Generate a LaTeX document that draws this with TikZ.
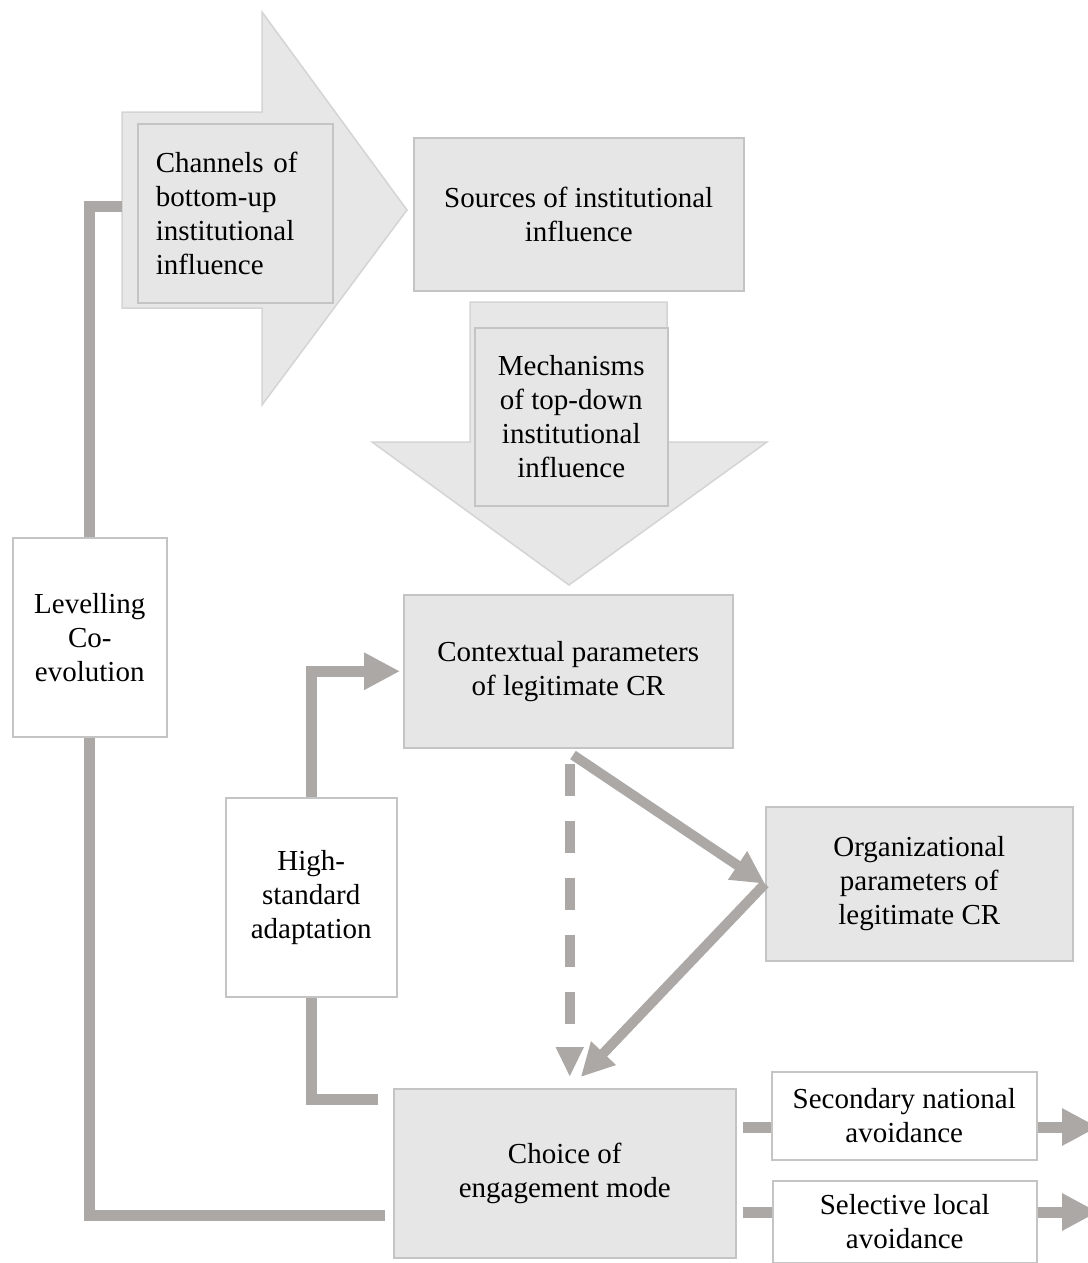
\documentclass[tikz,border=0pt]{standalone}
\usepackage{fontspec}
\setmainfont{Liberation Serif}
\usetikzlibrary{arrows.meta}
\definecolor{boxfill}{RGB}{230,230,230}
\definecolor{boxline}{RGB}{196,196,196}
\definecolor{shapefill}{RGB}{231,231,231}
\definecolor{shapeline}{RGB}{212,212,212}
\definecolor{linkgray}{RGB}{172,168,166}
\begin{document}
\begin{tikzpicture}[x=1pt,y=-1pt,
  lbl/.style={font=\fontsize{29}{34}\selectfont, align=center, inner sep=0pt, anchor=north west},
  graybox/.style={lbl, draw=boxline, fill=boxfill, line width=1.5pt},
  whitebox/.style={lbl, draw=boxline, fill=white, line width=1.5pt},
  bigarrow/.style={draw=shapeline, fill=shapefill, line width=1.5pt, line join=miter},
  link/.style={draw=linkgray, line width=11pt},
  linkarrow/.style={link, -{Triangle[length=36pt,width=35pt]}},
]
\useasboundingbox (0,0) rectangle (1087,1263);

% block arrows
\path[bigarrow] (122,112) -- (262,112) -- (262,12) -- (407,210) -- (262,405)
  -- (262,308) -- (122,308) -- cycle;
\path[bigarrow] (470,302) -- (667,302) -- (667,442) -- (767,442) -- (569,585)
  -- (372,442) -- (470,442) -- cycle;

% boxes
\node[graybox, minimum width=195pt, minimum height=179pt, text width=159pt, align=left]
  (chan) at (137,123) {Channels of\\bottom-up\\institutional\\influence};
\node[graybox, minimum width=330pt, minimum height=153pt]
  (src) at (413,137) {Sources of institutional\\influence};
\node[graybox, minimum width=193pt, minimum height=178pt]
  (mech) at (474,327) {Mechanisms\\of top-down\\institutional\\influence};
\node[graybox, minimum width=329pt, minimum height=153pt]
  (ctx) at (403,594) {Contextual parameters\\of legitimate CR};
\node[graybox, minimum width=307pt, minimum height=154pt]
  (org) at (765,806) {Organizational\\parameters of\\legitimate CR};
\node[graybox, minimum width=342pt, minimum height=169pt]
  (choice) at (393,1088) {Choice of\\engagement mode};
\node[whitebox, minimum width=154pt, minimum height=199pt]
  (lev) at (12,537) {Levelling\\Co-\\evolution};
\node[whitebox, minimum width=171pt, minimum height=199pt]
  (hs) at (225,797) {High-\\standard\\adaptation};
\node[whitebox, minimum width=265pt, minimum height=88pt]
  (sec) at (771,1071) {Secondary national\\avoidance};
\node[whitebox, minimum width=264pt, minimum height=82pt]
  (sel) at (772,1180) {Selective local\\avoidance};

% free ends of connectors
\coordinate (lvA) at (385,1215);
\coordinate (buIn) at (122,206);
\coordinate (hsA) at (378,1099);
\coordinate (dgA) at (573,755);
\coordinate (s1) at (743,1127);
\coordinate (s2) at (743,1212);
\coordinate (e1) at (1098,1127);
\coordinate (e2) at (1098,1212);

% levelling co-evolution loop
\draw[link] (lvA) -| (lev.south);
\draw[link] (lev.north) |- (buIn);

% high-standard adaptation loop
\draw[link] (hsA) -| (hs.south);
\draw[linkarrow] (hs.north) |- ([xshift=-3pt]ctx.west);

% contextual -> organizational -> choice
\draw[link, line width=10pt, -{Triangle[length=33pt,width=32pt]}] (dgA) -- (org.west);
\draw[link, line width=10pt, -{Triangle[length=33pt,width=32pt]}]
  (org.west) -- ([xshift=16pt,yshift=11pt]choice.north);
\draw[link, line width=10pt, dash pattern=on 32pt off 25pt,
  -{Triangle[length=30pt,width=26pt]}]
  ([xshift=1.5pt,yshift=-15pt]ctx.south) -- ([xshift=5pt,yshift=11pt]choice.north);

% avoidance outcomes
\draw[link] (s1) -- (s1 -| sec.west);
\draw[link] (s2) -- (s2 -| sel.west);
\draw[linkarrow] (s1 -| sec.east) -- (e1);
\draw[linkarrow] (s2 -| sel.east) -- (e2);
\end{tikzpicture}
\end{document}
